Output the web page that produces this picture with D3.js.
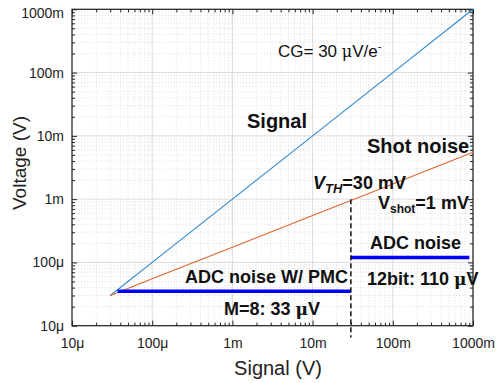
<!DOCTYPE html>
<html><head><meta charset="utf-8">
<script src="https://cdn.jsdelivr.net/npm/d3@7"></script>
<style>
html,body{margin:0;padding:0;background:#fff;}
svg{display:block;font-family:"Liberation Sans",Arial,sans-serif;}
</style></head>
<body><svg id="c" width="500" height="383"></svg>
<script>
// ---- data ----
const xTickValues = [1e-5, 1e-4, 1e-3, 1e-2, 1e-1, 1];
const xTickLabels = ["10\u03bc", "100\u03bc", "1m", "10m", "100m", "1000m"];
const yTickValues = [1e-5, 1e-4, 1e-3, 1e-2, 1e-1, 1];
const yTickLabels = ["10\u03bc", "100\u03bc", "1m", "10m", "100m", "1000m"];
const signalX = [30e-6, 1e-4, 1e-3, 1e-2, 1e-1, 1];
const signalY = [30e-6, 1e-4, 1e-3, 1e-2, 1e-1, 1];
const shotX = [30e-6, 1e-4, 1e-3, 1e-2, 3e-2, 1e-1, 1];
const shotY = [30e-6, 5.5e-5, 1.73e-4, 5.5e-4, 9.5e-4, 1.73e-3, 5.5e-3];
const adcPmcX = [37e-6, 30e-3];
const adcPmcY = [35e-6, 35e-6];
const adcX = [30e-3, 0.9];
const adcY = [120e-6, 120e-6];
const thresholdX = 30e-3;
const thresholdY = [6.5e-6, 1e-3];

// ---- layout ----
const L = 72, R = 473, T = 9.3, B = 325.7;
const svg = d3.select("#c");
const x = d3.scaleLog().domain([1e-5, 1]).range([L, R]);
const y = d3.scaleLog().domain([1e-5, 1]).range([B, T]);

// minor values
const minors = [];
for (let e = -5; e < 0; e++) for (let k = 2; k <= 9; k++) minors.push(k * Math.pow(10, e));

const g = svg.append("g");
// grid minor
g.selectAll(".gxm").data(minors).join("line")
  .attr("x1", d => x(d)).attr("x2", d => x(d)).attr("y1", T).attr("y2", B)
  .attr("stroke", "#d8d8d8").attr("stroke-width", 0.8).attr("stroke-dasharray", "1,2");
g.selectAll(".gym").data(minors).join("line")
  .attr("y1", d => y(d)).attr("y2", d => y(d)).attr("x1", L).attr("x2", R)
  .attr("stroke", "#d8d8d8").attr("stroke-width", 0.8).attr("stroke-dasharray", "1,2");
// grid major
g.selectAll(".gx").data(xTickValues).join("line")
  .attr("x1", d => x(d)).attr("x2", d => x(d)).attr("y1", T).attr("y2", B)
  .attr("stroke", "#dcdcdc").attr("stroke-width", 1);
g.selectAll(".gy").data(yTickValues).join("line")
  .attr("y1", d => y(d)).attr("y2", d => y(d)).attr("x1", L).attr("x2", R)
  .attr("stroke", "#dcdcdc").attr("stroke-width", 1);

// axes with inside ticks
function ax(axisGen, tr) {
  const a = svg.append("g").attr("transform", tr).call(axisGen);
  a.select(".domain").remove();
  a.selectAll("line").attr("stroke", "#222");
  return a;
}
const allX = xTickValues.concat(minors);
const fmtX = d => { const i = xTickValues.indexOf(d); return i >= 0 ? xTickLabels[i] : ""; };
const fmtY = d => { const i = yTickValues.indexOf(d); return i >= 0 ? yTickLabels[i] : ""; };

// bottom
const bx = ax(d3.axisBottom(x).tickValues(allX).tickFormat(fmtX).tickSizeInner(-5).tickSizeOuter(0).tickPadding(12), `translate(0,${B})`);
bx.selectAll(".tick line").attr("y2", d => xTickValues.includes(d) ? -5 : -3);
bx.selectAll("text").attr("font-size", 14).attr("fill", "#222").attr("font-family", "Liberation Sans, Arial, sans-serif");
// top
const tx = ax(d3.axisTop(x).tickValues(allX).tickFormat("").tickSizeOuter(0), `translate(0,${T})`);
tx.selectAll(".tick line").attr("y2", d => xTickValues.includes(d) ? 5 : 3);
// left
const ly = ax(d3.axisLeft(y).tickValues(allX).tickFormat(fmtY).tickSizeOuter(0).tickPadding(2), `translate(${L},0)`);
ly.selectAll(".tick line").attr("x2", d => yTickValues.includes(d) ? 5 : 3);
ly.selectAll("text").attr("font-size", 14).attr("fill", "#222").attr("font-family", "Liberation Sans, Arial, sans-serif");
ly.selectAll(".tick").filter(d => d === 1).select("text").attr("dy", "0.6em");
// right
const ry = ax(d3.axisRight(y).tickValues(allX).tickFormat("").tickSizeOuter(0), `translate(${R},0)`);
ry.selectAll(".tick line").attr("x2", d => yTickValues.includes(d) ? -5 : -3);

// box
svg.append("rect").attr("x", L).attr("y", T).attr("width", R - L).attr("height", B - T)
  .attr("fill", "none").attr("stroke", "#222").attr("stroke-width", 1.2);

// lines
const line = d3.line().x(d => x(d[0])).y(d => y(d[1]));
svg.append("path").attr("d", line(signalX.map((v, i) => [v, signalY[i]])))
  .attr("fill", "none").attr("stroke", "#2a86d0").attr("stroke-width", 1.1);
svg.append("path").attr("d", line(shotX.map((v, i) => [v, shotY[i]])))
  .attr("fill", "none").attr("stroke", "#e0662f").attr("stroke-width", 1.1);
svg.append("path").attr("d", line(adcPmcX.map((v, i) => [v, adcPmcY[i]])))
  .attr("fill", "none").attr("stroke", "#0000ff").attr("stroke-width", 3.5);
svg.append("path").attr("d", line(adcX.map((v, i) => [v, adcY[i]])))
  .attr("fill", "none").attr("stroke", "#0000ff").attr("stroke-width", 3.5);
svg.append("line").attr("x1", x(thresholdX)).attr("x2", x(thresholdX))
  .attr("y1", y(thresholdY[1])).attr("y2", y(thresholdY[0]))
  .attr("stroke", "#111").attr("stroke-width", 1.5).attr("stroke-dasharray", "5,3");

// axis titles
svg.append("text").attr("x", 278).attr("y", 375).attr("text-anchor", "middle")
  .attr("font-size", 20).attr("fill", "#222").text("Signal (V)");
svg.append("text").attr("transform", "translate(26,163) rotate(-90)").attr("text-anchor", "middle")
  .attr("font-size", 19).attr("fill", "#222").text("Voltage (V)");

// annotations
const ann = svg.append("g").attr("fill", "#111");
const cg = ann.append("text").attr("x", 278).attr("y", 57).attr("font-size", 17);
cg.append("tspan").text("CG= 30 ");
cg.append("tspan").attr("font-family", "DejaVu Serif, serif").attr("font-size", 16).text("\u03bc");
cg.append("tspan").text("V/e");
cg.append("tspan").attr("dy", -7).attr("font-size", 11).text("-");

ann.append("text").attr("x", 247).attr("y", 128).attr("font-size", 20).attr("font-weight", "bold").text("Signal");
ann.append("text").attr("x", 367).attr("y", 152.5).attr("font-size", 20).attr("font-weight", "bold").text("Shot noise");

const vth = ann.append("text").attr("x", 313).attr("y", 188.5).attr("font-size", 18).attr("font-weight", "bold");
vth.append("tspan").attr("font-style", "italic").text("V");
vth.append("tspan").attr("font-style", "italic").attr("font-size", 13).attr("dy", 4).text("TH");
vth.append("tspan").attr("dy", -4).text("=30 mV");

const vs = ann.append("text").attr("x", 378).attr("y", 208.5).attr("font-size", 18).attr("font-weight", "bold");
vs.append("tspan").text("V");
vs.append("tspan").attr("font-size", 12).attr("dy", 4).text("shot");
vs.append("tspan").attr("dy", -4).text("=1 mV");

ann.append("text").attr("x", 370).attr("y", 248.5).attr("font-size", 18).attr("font-weight", "bold").text("ADC noise");
const b12 = ann.append("text").attr("x", 367).attr("y", 285).attr("font-size", 18).attr("font-weight", "bold");
b12.append("tspan").text("12bit: 110 ");
b12.append("tspan").attr("font-family", "DejaVu Serif, serif").attr("font-size", 17).text("\u03bc");
b12.append("tspan").text("V");

ann.append("text").attr("x", 185).attr("y", 283).attr("font-size", 18).attr("font-weight", "bold").text("ADC noise W/ PMC");
const m8 = ann.append("text").attr("x", 224).attr("y", 315).attr("font-size", 18).attr("font-weight", "bold");
m8.append("tspan").text("M=8: 33 ");
m8.append("tspan").attr("font-family", "DejaVu Serif, serif").attr("font-size", 17).text("\u03bc");
m8.append("tspan").text("V");
</script>
</body></html>
